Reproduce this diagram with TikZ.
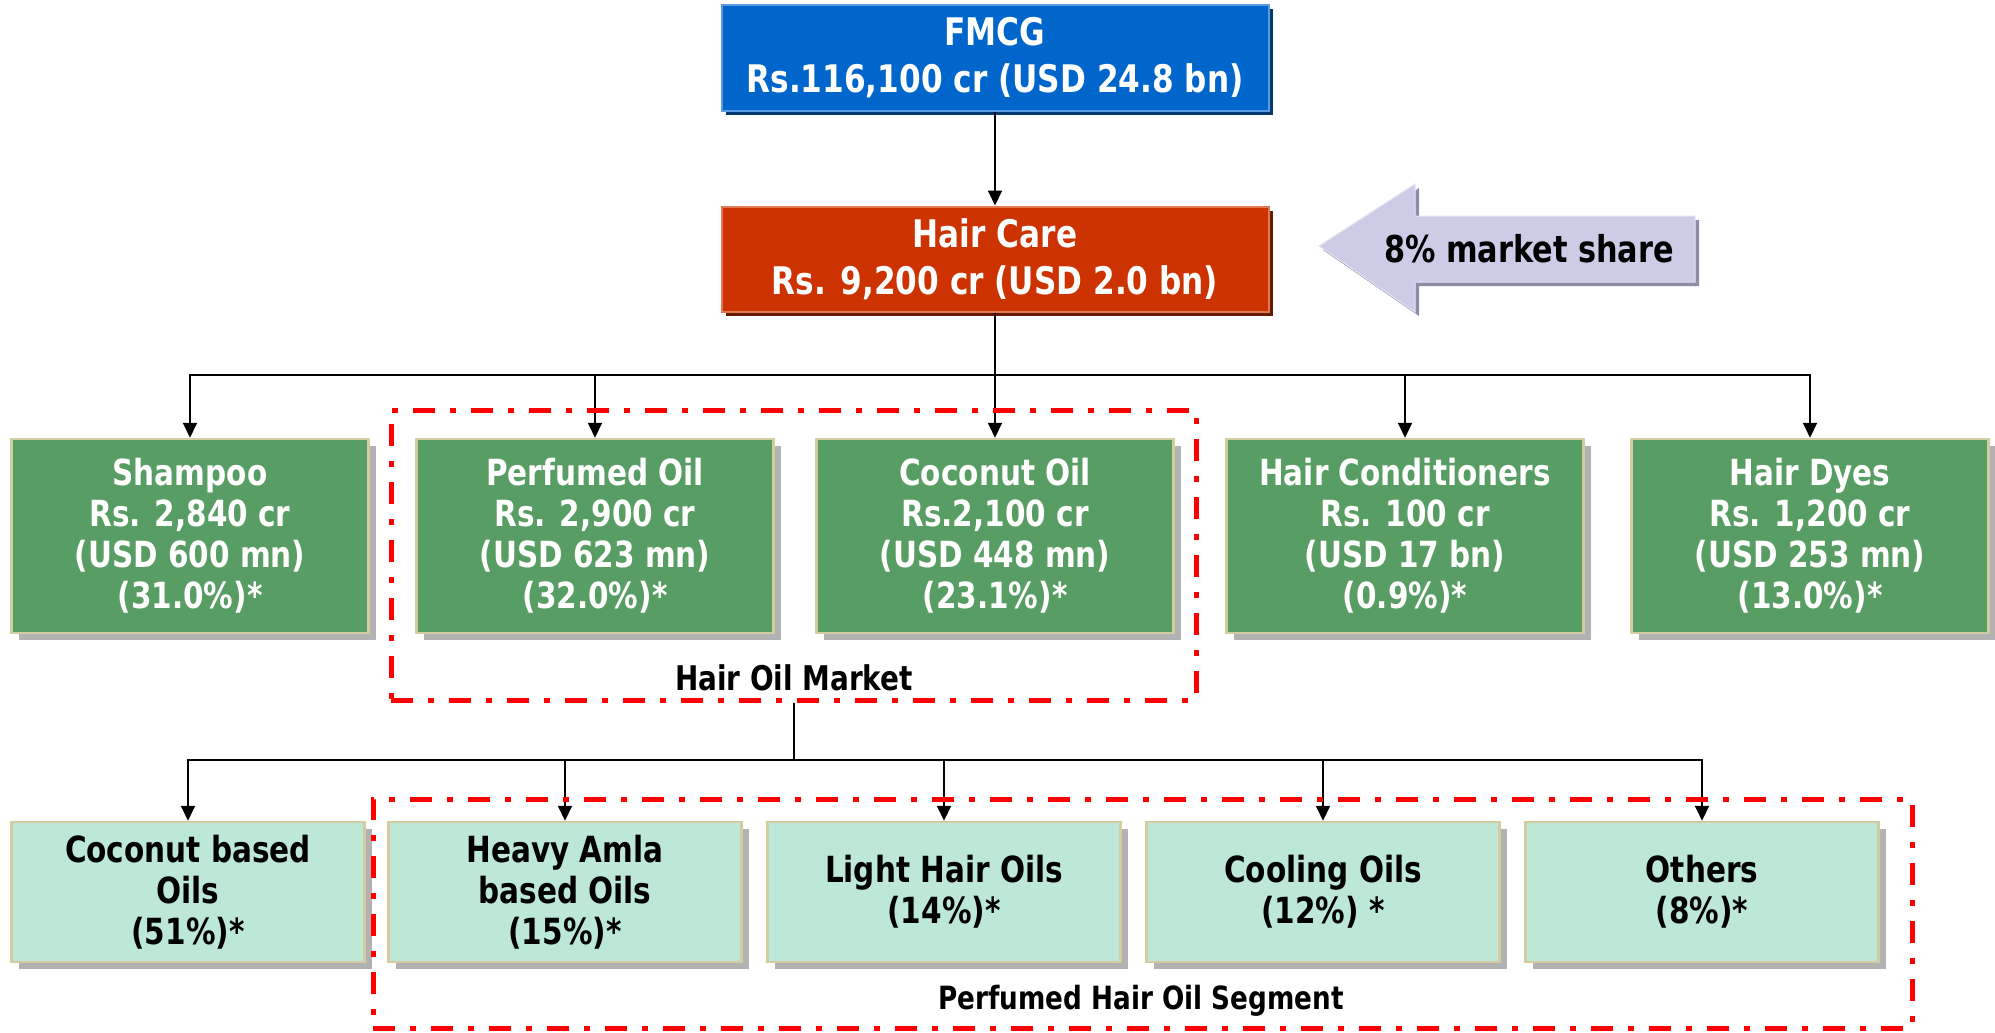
\documentclass[tikz,border=0pt]{standalone}
\usepackage{fontspec}
\setmainfont{DejaVu Sans}[FakeStretch=0.82]
\usetikzlibrary{shadows,arrows.meta}
\definecolor{fblue}{HTML}{0066CC}
\definecolor{fblueL}{HTML}{5B9BDF}
\definecolor{fblueD}{HTML}{003A70}
\definecolor{hred}{HTML}{CC3300}
\definecolor{hredL}{HTML}{E07A55}
\definecolor{hredD}{HTML}{661A00}
\definecolor{dgreen}{HTML}{589D63}
\definecolor{lgreen}{HTML}{BDE7D6}
\definecolor{tan}{HTML}{D2CCA0}
\definecolor{shad}{HTML}{B2B2B2}
\definecolor{lav}{HTML}{CCCCE6}
\definecolor{lavD}{HTML}{8C8CA6}
\definecolor{lavL}{HTML}{E4E4F2}
\tikzset{
  topbox/.style={draw=#1L, fill=#1, line width=2pt, minimum width=547pt, minimum height=105pt,
    align=center, text=white, font=\fontsize{38}{47}\selectfont\bfseries,
    drop shadow={shadow xshift=4pt, shadow yshift=-4pt, fill=#1D, opacity=1}},
  catbox/.style={draw=tan, fill=dgreen, line width=2.5pt, minimum width=357pt, minimum height=194pt,
    align=center, text=white, font=\fontsize{36}{41}\selectfont\bfseries,
    drop shadow={shadow xshift=7pt, shadow yshift=-7pt, fill=shad, opacity=1}},
  subbox/.style={draw=tan, fill=lgreen, line width=2.5pt, minimum width=353pt, minimum height=140pt,
    align=center, text=black, font=\fontsize{36}{41}\selectfont\bfseries,
    drop shadow={shadow xshift=7pt, shadow yshift=-7pt, fill=shad, opacity=1}},
  redframe/.style={draw=red, line width=5pt, dash pattern=on 22pt off 15pt on 6pt off 15pt},
  conn/.style={draw=black, line width=2pt},
  arr/.style={conn, -{Triangle[length=15pt,width=14pt]}},
  framelabel/.style={font=\fontsize{34}{38}\selectfont\bfseries, text=black},
}
\begin{document}
\begin{tikzpicture}[x=1pt,y=-1pt]
\useasboundingbox (0,0) rectangle (1995,1033);
% top boxes
\node[topbox=fblue] (fmcg) at (995,58) {FMCG\\Rs.116,100 cr (USD 24.8 bn)};
\node[topbox=hred] (hc) at (995,259) {Hair Care\\Rs. 9,200 cr (USD 2.0 bn)};
\draw[arr] (fmcg.south) -- (hc.north);
% market share arrow
\draw[fill=lavD, draw=none] (1323,250) -- (1419,188) -- (1419,220) -- (1699,220) -- (1699,286) -- (1419,286) -- (1419,316) -- cycle;
\draw[fill=lav, draw=lavL, line width=1pt] (1319,246) -- (1415,184) -- (1415,216) -- (1695,216) -- (1695,282) -- (1415,282) -- (1415,312) -- cycle;
\node[font=\fontsize{37}{40}\selectfont\bfseries] (ms) at (1529,249) {8\% market share};
% level 2
\node[catbox] (sh) at (190,536) {Shampoo\\Rs. 2,840 cr\\(USD 600 mn)\\(31.0\%)*};
\node[catbox] (po) at (595,536) {Perfumed Oil\\Rs. 2,900 cr\\(USD 623 mn)\\(32.0\%)*};
\node[catbox] (co) at (995,536) {Coconut Oil\\Rs.2,100 cr\\(USD 448 mn)\\(23.1\%)*};
\node[catbox] (hcd) at (1405,536) {Hair Conditioners\\Rs. 100 cr\\(USD 17 bn)\\(0.9\%)*};
\node[catbox] (hd) at (1810,536) {Hair Dyes\\Rs. 1,200 cr\\(USD 253 mn)\\(13.0\%)*};
\coordinate (b1) at (995,375);
\draw[conn] (hc.south) -- (b1);
\draw[arr] (b1) -| (sh.north);
\draw[arr] (b1) -| (po.north);
\draw[arr] (b1) -- (co.north);
\draw[arr] (b1) -| (hcd.north);
\draw[arr] (b1) -| (hd.north);
% hair oil market frame
\node[redframe, minimum width=805pt, minimum height=290pt, inner sep=0pt] (hom) at (793.5,555) {};
\node[framelabel] (homl) at (794,678) {Hair Oil Market};
% level 3
\node[subbox] (cb) at (188,892) {Coconut based\\Oils\\(51\%)*};
\node[subbox] (ha) at (565,892) {Heavy Amla\\based Oils\\(15\%)*};
\node[subbox] (lh) at (944,892) {Light Hair Oils\\(14\%)*};
\node[subbox] (cl) at (1323,892) {Cooling Oils\\(12\%) *};
\node[subbox] (ot) at (1702,892) {Others\\(8\%)*};
\coordinate (b2) at (793.5,760);
\draw[conn] (hom.south) -- (b2);
\draw[arr] (b2) -| (cb.north);
\draw[arr] (b2) -| (ha.north);
\draw[arr] (b2) -| (lh.north);
\draw[arr] (b2) -| (cl.north);
\draw[arr] (b2) -| (ot.north);
% perfumed segment frame
\node[redframe, minimum width=1539pt, minimum height=229pt, inner sep=0pt] (phs) at (1142.5,913.5) {};
\node[framelabel, font=\fontsize{32}{36}\selectfont\bfseries] (phsl) at (1141,1001) {Perfumed Hair Oil Segment};
\end{tikzpicture}
\end{document}
